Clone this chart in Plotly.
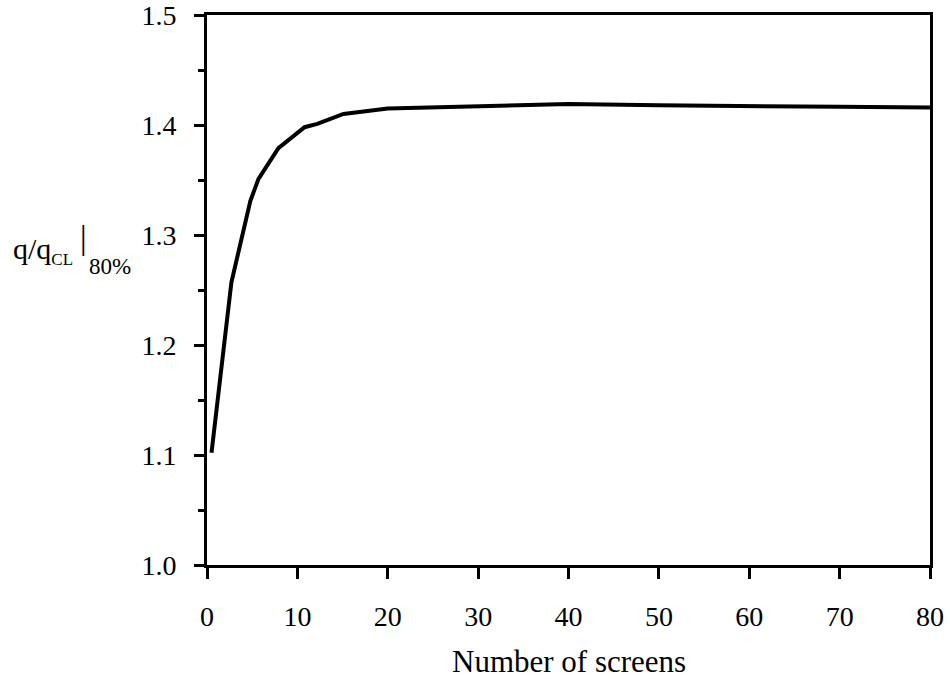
import plotly.graph_objects as go

# Flow ratio at the 80% point versus number of screens
screens = [0.5, 2.7, 4.8, 5.7, 7.9, 10.8, 12.2, 15.1, 20, 30, 40, 50, 60, 70, 80]
ratio = [1.102, 1.257, 1.331, 1.351, 1.379, 1.398, 1.401, 1.410, 1.415,
         1.417, 1.419, 1.418, 1.417, 1.4165, 1.416]

x_ticks = [0, 10, 20, 30, 40, 50, 60, 70, 80]
y_ticks = [1.0, 1.1, 1.2, 1.3, 1.4, 1.5]

serif = "Liberation Serif, Times New Roman, serif"

# plot-area geometry in pixels, used to place the y-axis label pieces
L, R, T, B = 207, 20, 15, 114
W, H = 950, 679
pw, ph = W - L - R, H - T - B


def px(x):
    return (x - L) / pw


def py(y):
    return (H - B - y) / ph


fig = go.Figure()
fig.add_trace(go.Scatter(
    x=screens, y=ratio, mode="lines",
    line=dict(color="black", width=4),
    showlegend=False, hoverinfo="skip",
))

fig.update_layout(
    width=W, height=H,
    margin=dict(l=L, r=R, t=T, b=B, autoexpand=False),
    paper_bgcolor="white", plot_bgcolor="white",
    font=dict(family=serif, size=27, color="black"),
    xaxis=dict(
        range=[0, 80], tickvals=x_ticks, ticktext=[str(v) for v in x_ticks],
        showgrid=False, zeroline=False, automargin=False,
        showline=True, linecolor="black", linewidth=3, mirror=True,
        ticks="outside", ticklen=11, tickwidth=3, tickcolor="black",
        ticklabelstandoff=13, ticklabeloverflow="allow",
        tickfont=dict(size=28),
    ),
    yaxis=dict(
        range=[1.0, 1.5], tickvals=y_ticks, ticktext=[f"{v:.1f}" for v in y_ticks],
        showgrid=False, zeroline=False, automargin=False,
        showline=True, linecolor="black", linewidth=3, mirror=True,
        ticks="outside", ticklen=10, tickwidth=3, tickcolor="black",
        ticklabelstandoff=12, ticklabeloverflow="allow",
        tickfont=dict(size=28),
        minor=dict(dtick=0.05, ticks="outside", ticklen=6, tickwidth=3,
                   tickcolor="black", showgrid=False),
    ),
    annotations=[
        dict(text="Number of screens", xref="paper", yref="paper",
             x=0.5, y=py(661), xanchor="center", yanchor="middle",
             showarrow=False, font=dict(family=serif, size=31)),
        dict(text="q/q<sub><span style='font-size:17px'>CL</span></sub>",
             xref="paper", yref="paper",
             x=px(11), y=py(250), xanchor="left", yanchor="middle",
             showarrow=False, font=dict(family=serif, size=30)),
        dict(text="|", xref="paper", yref="paper",
             x=px(83), y=py(238), xanchor="center", yanchor="middle",
             showarrow=False, font=dict(family=serif, size=33)),
        dict(text="80%", xref="paper", yref="paper",
             x=px(87), y=py(266), xanchor="left", yanchor="middle",
             showarrow=False, font=dict(family=serif, size=23)),
    ],
)

fig.write_html("out.html")
